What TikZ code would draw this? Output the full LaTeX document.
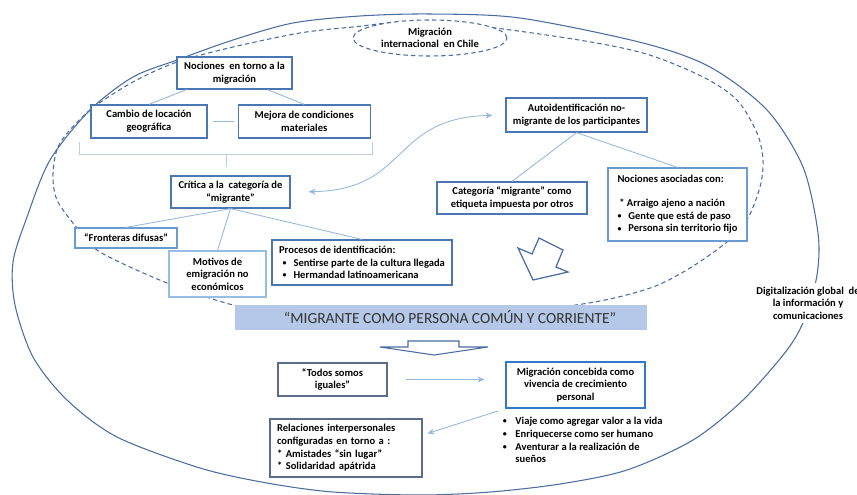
\documentclass[tikz,border=0pt]{standalone}
\usepackage{fontspec}
\setmainfont{Carlito}
\usetikzlibrary{positioning,arrows.meta,shapes.geometric}
\definecolor{boxblue}{RGB}{74,118,180}
\definecolor{softblue}{RGB}{105,155,210}
\definecolor{paleblue}{RGB}{150,190,228}
\definecolor{linkblue}{RGB}{150,185,222}
\definecolor{braceblue}{RGB}{190,205,222}
\definecolor{rimblue}{RGB}{74,108,160}
\definecolor{greyblue}{RGB}{90,110,140}
\definecolor{brightblue}{RGB}{50,120,200}
\definecolor{bandblue}{RGB}{182,200,232}
\newcommand{\blt}{\raisebox{0.5pt}{\fontsize{4.5}{4.5}\selectfont\textbullet}}

\begin{document}
\begin{tikzpicture}[x=0.02cm,y=-0.02cm,
box/.style={draw=boxblue,line width=0.7pt,fill=white,align=center,inner sep=1pt,font=\fontsize{6}{7.2}\selectfont\bfseries},
listbox/.style={box,align=left},
plain/.style={align=left,inner sep=0pt,font=\fontsize{6}{7.2}\selectfont\bfseries},
link/.style={draw=linkblue,line width=0.5pt},
arr/.style={link,-{Stealth[length=4pt,width=3.5pt]}},
rim/.style={draw=rimblue,line width=0.6pt},
rimdash/.style={rim,dash pattern=on 2.5pt off 1.8pt}]
\useasboundingbox (0,0) rectangle (857,494);
\draw[rim] plot[smooth cycle] coordinates {(430,14) (520,18) (643,43) (710,67) (767,110) (803,167) (818,233) (817,275) (805,318) (787,350) (743,400) (693,440) (627,470) (560,484) (490,492) (420,495) (333,492) (267,483) (200,468) (117,437) (67,400) (33,357) (15,305) (13,262) (27,217) (50,160) (90,110) (133,77) (177,60) (233,40) (293,23) (360,16)};
\draw[rimdash] plot[smooth cycle] coordinates {(430,21) (560,37) (643,53) (703,77) (737,100) (757,133) (763,160) (760,187) (747,220) (727,242) (690,268) (653,287) (600,301) (520,312) (420,317) (330,315) (280,312) (233,305) (167,283) (100,252) (77,228) (57,200) (53,173) (60,143) (90,110) (133,82) (177,62) (233,47) (300,33) (353,27)};
\node[box,ellipse,draw=rimblue,line width=0.6pt,dash pattern=on 2.5pt off 1.8pt,minimum width=3.08cm,minimum height=0.72cm,inner sep=0pt] (chi) at (430,38) {Migración\\internacional\ \ en Chile};

\node[box,minimum width=2.3cm,minimum height=0.64cm] (noc) at (234.5,73) {Nociones\ \ en torno a la\\migración};
\node[box,minimum width=2.32cm,minimum height=0.66cm] (cam) at (149,121.5) {Cambio de locación\\geográfica};
\node[box,minimum width=2.64cm,minimum height=0.66cm,right=0.6cm of cam] (mej) {Mejora de condiciones\\materiales};
\node[box,minimum width=2.38cm,minimum height=0.64cm] (cri) at (230.5,192) {Crítica a la\ \ categoría de\\“migrante”};
\node[box,draw=softblue,minimum width=2.04cm,minimum height=0.4cm] (fro) at (126,238) {“Fronteras difusas”};
\node[box,draw=paleblue,minimum width=1.94cm,minimum height=0.92cm] (mot) at (217.5,274) {Motivos de\\emigración no\\económicos};
\node[listbox,minimum width=3.6cm,minimum height=0.9cm] (pro) at (362,262.5) {Procesos de identificación:\\\hspace{2pt}\blt\hspace{4pt}Sentirse parte de la cultura llegada\\\hspace{2pt}\blt\hspace{4pt}Hermandad latinoamericana};
\node[box,minimum width=2.82cm,minimum height=0.68cm] (aut) at (576.5,115) {Autoidentificación no-\\migrante de los participantes};
\node[box,minimum width=3cm,minimum height=0.64cm] (cat) at (512,198) {Categoría “migrante” como\\etiqueta impuesta por otros};
\node[listbox,draw=softblue,minimum width=2.78cm,minimum height=1.46cm] (aso) at (677.5,204.5) {Nociones asociadas con:\\[6.5pt]\hspace{1pt}* Arraigo ajeno a nación\\\blt\hspace{4pt}Gente que está de paso\\\blt\hspace{4pt}Persona sin territorio fijo};
\node[fill=bandblue,minimum width=8.24cm,minimum height=0.5cm,inner sep=0pt,text=black!80,font=\fontsize{8.8}{10}\selectfont] (ban) at (441,317.5) {\hspace{0.36cm}“MIGRANTE COMO PERSONA COMÚN Y CORRIENTE”};
\node[box,draw=greyblue,minimum width=2.18cm,minimum height=0.66cm] (tod) at (332.5,379.5) {“Todos somos\\iguales”};
\node[box,draw=brightblue,minimum width=2.78cm,minimum height=0.92cm] (mig) at (575.5,385) {Migración concebida como\\vivencia de crecimiento\\personal};
\node[plain,anchor=north west] (lst) at ([xshift=-0.06cm,yshift=-0.17cm]mig.south west) {\blt\hspace{5pt}Viaje como agregar valor a la vida\\\blt\hspace{5pt}Enriquecerse como ser humano\\\blt\hspace{5pt}Aventurar a la realización de\\\hphantom{\blt}\hspace{5pt}sueños};
\node[listbox,draw=greyblue,inner xsep=0.14cm,text width=2.76cm,minimum height=1.16cm] (rel) at (346,448) {Relaciones interpersonales\\configuradas en torno a :\\{*} Amistades “sin lugar”\\{*} Solidaridad apátrida};
\node[plain,align=center,fill=white,inner sep=2pt] (dig) at (808,303) {Digitalización global\ \ de\\la información y\\comunicaciones};

\draw[link] ([xshift=0.2cm]noc.south west) -- (cam.north);
\draw[link] ([xshift=-0.5cm]noc.south east) -- (mej.north);
\draw[link,shorten <=0.1cm,shorten >=0.08cm] (cam) -- (mej);
\coordinate (bl) at (79,142);
\coordinate (br) at (372,142);
\coordinate (bm) at (226,154);
\draw[link,draw=braceblue] (bl) -- ++(0,12) -| (br);
\draw[link,draw=braceblue,shorten >=0.16cm] (bm) -- (bm |- cri.north);
\draw[link] (cri.south) -- (fro.north);
\draw[link] (cri.south) -- (mot.north);
\draw[link] (cri.south) -- (pro.north);
\draw[link] (aut.south) -- (cat.north);
\draw[link] (aut.south) -- (aso.north);
\draw[arr,{Stealth[length=4pt,width=3.5pt]}-{Stealth[length=4pt,width=3.5pt]},shorten <=0.36cm,shorten >=0.26cm] (cri.east) .. controls (410,190) and (390,118) .. (aut.west);
\draw[arr,shorten <=0.36cm,shorten >=0.42cm] (tod.east) -- (tod.east -| mig.west);
\draw[arr,shorten <=0.16cm,shorten >=0.1cm] (mig.south west) -- ([yshift=0.26cm]rel.east);

\draw[rim,line width=0.7pt,fill=white] (539,238) -- (563,250) -- (556,267) -- (568,272) -- (533,280) -- (518,248) -- (532,254) -- cycle;
\draw[rim] (408,341) -- (459,341) -- (459,347) -- (488,347) -- (434,355) -- (380,347) -- (408,347) -- cycle;
\end{tikzpicture}
\end{document}
